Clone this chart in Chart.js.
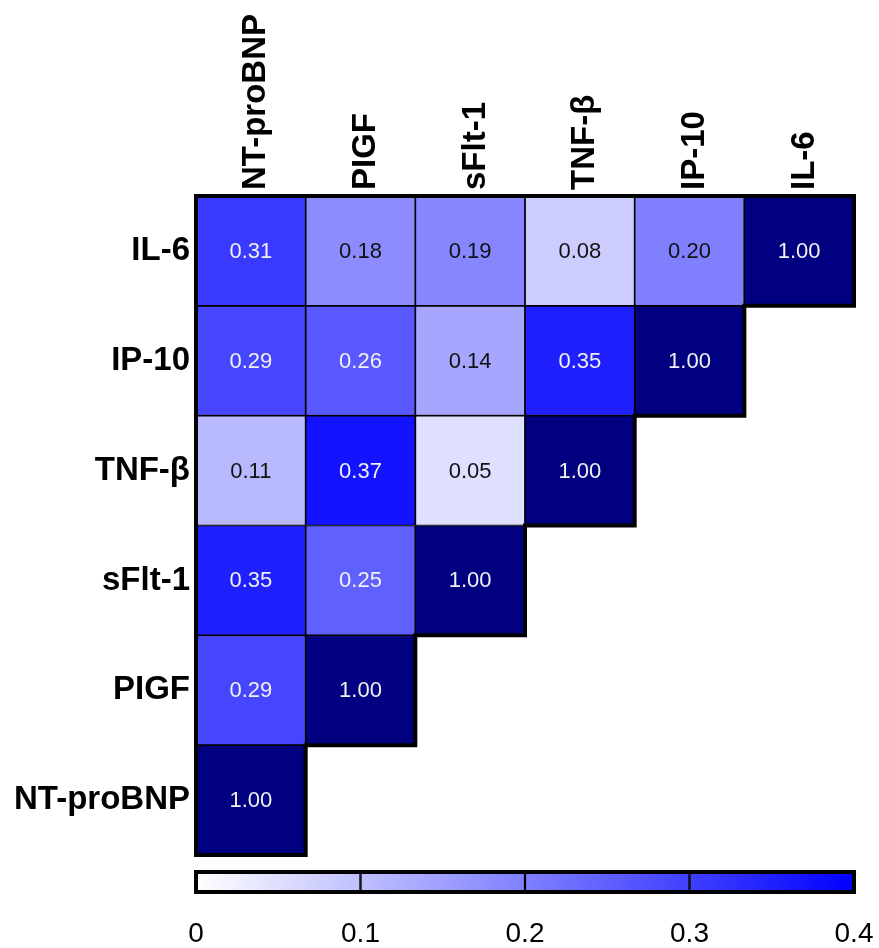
<!DOCTYPE html>
<html lang="en">
<head>
<meta charset="UTF-8">
<title>Correlation heatmap</title>
<script src="https://cdn.jsdelivr.net/npm/chart.js"></script>
<style>
  body { margin: 0; background: #fff; }
  #wrap { position: relative; width: 879px; height: 948px; }
  #heat { position: absolute; left: 0; top: 0; }
  #bar { position: absolute; left: 0; top: 862px; }
</style>
</head>
<body>
<div id="wrap">
  <canvas id="heat" width="879" height="862"></canvas>
  <canvas id="bar" width="879" height="86"></canvas>
</div>
<script>
const columns = ['NT-proBNP', 'PIGF', 'sFlt-1', 'TNF-β', 'IP-10', 'IL-6'];
const rows = ['IL-6', 'IP-10', 'TNF-β', 'sFlt-1', 'PIGF', 'NT-proBNP'];
// correlation of each row, left to right
const il6 = [0.31, 0.18, 0.19, 0.08, 0.20, 1.00];
const ip10 = [0.29, 0.26, 0.14, 0.35, 1.00];
const tnfb = [0.11, 0.37, 0.05, 1.00];
const sflt1 = [0.35, 0.25, 1.00];
const plgf = [0.29, 1.00];
const ntprobnp = [1.00];
const rowValues = [il6, ip10, tnfb, sflt1, plgf, ntprobnp];
const scaleTicks = [0, 0.1, 0.2, 0.3, 0.4];

const FONT = '"Liberation Sans", Arial, sans-serif';

function cellColor(v) {
    if (v > 0.4) return '#000080';
    const t = Math.max(0, v) / 0.4;
    const c = Math.round(255 * (1 - t));
    return `rgb(${c},${c},255)`;
}

const heatPlugin = {
    id: 'heatPlugin',
    afterDatasetsDraw(chart) {
        const ctx = chart.ctx;
        const area = chart.chartArea;
        ctx.save();
        ctx.font = '22px ' + FONT;
        ctx.textAlign = 'center';
        ctx.textBaseline = 'middle';
        const edges = [];
        chart.data.datasets.forEach((ds, r) => {
            const meta = chart.getDatasetMeta(r);
            let last = null;
            meta.data.forEach((el, c) => {
                if (ds.data[c] === null) return;
                const v = ds.values[c];
                ctx.fillStyle = v >= 0.22 ? '#f0f0f0' : '#111';
                ctx.fillText(v.toFixed(2), el.x, (el.y + el.base) / 2 + 1);
                last = el;
            });
            edges.push({
                right: last.x + last.width / 2,
                top: Math.min(last.y, last.base),
                bottom: Math.max(last.y, last.base)
            });
        });
        // thick outline around the triangle
        ctx.beginPath();
        ctx.moveTo(area.left, edges[0].top);
        edges.forEach(e => { ctx.lineTo(e.right, e.top); ctx.lineTo(e.right, e.bottom); });
        ctx.lineTo(area.left, edges[edges.length - 1].bottom);
        ctx.closePath();
        ctx.lineWidth = 4;
        ctx.strokeStyle = '#000';
        ctx.stroke();
        ctx.restore();
    }
};

new Chart(document.getElementById('heat'), {
    type: 'bar',
    data: {
        labels: columns,
        datasets: rowValues.map((vals, r) => ({
            label: rows[r],
            data: columns.map((_, c) => c < vals.length ? [r, r + 1] : null),
            values: vals,
            backgroundColor: columns.map((_, c) => c < vals.length ? cellColor(vals[c]) : 'rgba(0,0,0,0)'),
            borderColor: '#000',
            borderWidth: 1.2,
            borderSkipped: false,
            barPercentage: 1,
            categoryPercentage: 1,
            grouped: false
        }))
    },
    options: {
        responsive: false,
        animation: false,
        events: [],
        layout: { padding: { left: 0, top: 0, right: 25, bottom: 7 } },
        plugins: { legend: { display: false }, tooltip: { enabled: false } },
        scales: {
            x: {
                type: 'category',
                position: 'top',
                offset: true,
                grid: { display: false },
                border: { display: false },
                ticks: {
                    autoSkip: false, maxRotation: 90, minRotation: 90, padding: -2, labelOffset: 45,
                    color: '#000',
                    font: { family: FONT, size: 33, weight: 'bold' }
                },
                afterFit(s) { s.height = 196; s.paddingLeft = 0; s.paddingRight = 0; }
            },
            y: {
                type: 'linear',
                reverse: true,
                min: 0,
                max: 6,
                grid: { display: false },
                border: { display: false },
                afterBuildTicks(s) { s.ticks = rows.map((_, i) => ({ value: i + 0.5 })); },
                ticks: {
                    padding: -2, color: '#000',
                    font: { family: FONT, size: 33, weight: 'bold' },
                    callback: (v, i) => rows[i]
                },
                afterFit(s) { s.width = 196; s.paddingTop = 0; s.paddingBottom = 0; }
            }
        }
    },
    plugins: [heatPlugin]
});

// colour scale bar
const outlinePlugin = {
    id: 'outlinePlugin',
    afterDatasetsDraw(chart) {
        const a = chart.chartArea;
        const ctx = chart.ctx;
        ctx.save();
        ctx.lineWidth = 4;
        ctx.strokeStyle = '#000';
        ctx.strokeRect(a.left, a.top, a.right - a.left, a.bottom - a.top);
        ctx.restore();
    }
};

function barGradient(context) {
    const chart = context.chart;
    const a = chart.chartArea;
    if (!a) return null;
    const g = chart.ctx.createLinearGradient(a.left, 0, a.right, 0);
    g.addColorStop(0, cellColor(0));
    g.addColorStop(1, cellColor(0.4));
    return g;
}

const segments = scaleTicks.slice(0, -1).map((t, i) => [t, scaleTicks[i + 1]]);

new Chart(document.getElementById('bar'), {
    type: 'bar',
    data: {
        labels: [''],
        datasets: segments.map(s => ({
            data: [s],
            backgroundColor: barGradient,
            borderColor: '#000',
            borderWidth: 1.5,
            borderSkipped: false,
            barPercentage: 1,
            categoryPercentage: 1,
            grouped: false
        }))
    },
    options: {
        indexAxis: 'y',
        responsive: false,
        animation: false,
        events: [],
        layout: { padding: { left: 196, top: 10, right: 25, bottom: 0 } },
        plugins: { legend: { display: false }, tooltip: { enabled: false } },
        scales: {
            x: {
                type: 'linear',
                min: 0,
                max: 0.4,
                grid: { display: false },
                border: { display: false },
                afterBuildTicks(s) { s.ticks = scaleTicks.map(v => ({ value: v })); },
                ticks: {
                    padding: 17, color: '#000',
                    font: { family: FONT, size: 28 },
                    callback: v => v === 0 ? '0' : v.toFixed(1)
                },
                afterFit(s) { s.height = 56; s.paddingLeft = 0; s.paddingRight = 0; }
            },
            y: { display: false }
        }
    },
    plugins: [outlinePlugin]
});
</script>
</body>
</html>
